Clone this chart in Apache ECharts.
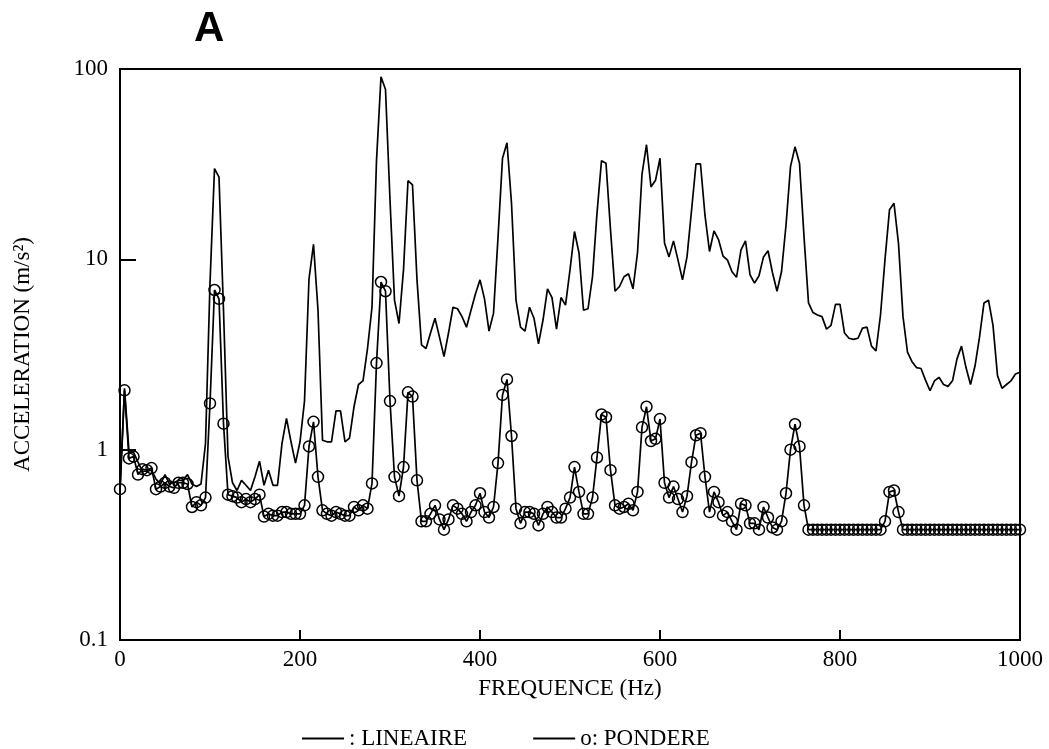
<!DOCTYPE html>
<html>
<head>
<meta charset="utf-8">
<script src="https://cdn.jsdelivr.net/npm/echarts@6/dist/echarts.min.js"></script>
<style>html,body{margin:0;padding:0;background:#fff;}#c{width:1049px;height:749px;}</style>
</head>
<body>
<div id="c"></div>
<script>
const freq = [
0,5,10,15,20,25,30,35,40,45,50,55,60,65,70,75,80,85,90,95,
100,105,110,115,120,125,130,135,140,145,150,155,160,165,170,175,180,185,190,195,
200,205,210,215,220,225,230,235,240,245,250,255,260,265,270,275,280,285,290,295,
300,305,310,315,320,325,330,335,340,345,350,355,360,365,370,375,380,385,390,395,
400,405,410,415,420,425,430,435,440,445,450,455,460,465,470,475,480,485,490,495,
500,505,510,515,520,525,530,535,540,545,550,555,560,565,570,575,580,585,590,595,
600,605,610,615,620,625,630,635,640,645,650,655,660,665,670,675,680,685,690,695,
700,705,710,715,720,725,730,735,740,745,750,755,760,765,770,775,780,785,790,795,
800,805,810,815,820,825,830,835,840,845,850,855,860,865,870,875,880,885,890,895,
900,905,910,915,920,925,930,935,940,945,950,955,960,965,970,975,980,985,990,995,
1000];

const lineaire = [
0.6,2.1,0.97,0.97,0.86,0.77,0.77,0.78,0.70,0.66,
0.74,0.66,0.67,0.69,0.69,0.74,0.66,0.64,0.66,1.08,
7.5,30,27,5.4,0.92,0.67,0.61,0.69,0.65,0.61,
0.72,0.87,0.65,0.78,0.65,0.65,1.08,1.46,1.1,0.85,
1.1,1.8,7.9,12,5.4,1.12,1.1,1.1,1.6,1.6,
1.1,1.15,1.68,2.2,2.3,3.4,5.6,33,91,78,
20.5,6.1,4.6,8.8,25.9,24.6,7.8,3.55,3.4,4.1,
4.9,3.9,3.08,4.1,5.6,5.5,5.0,4.4,5.4,6.6,
7.8,6.2,4.2,5.2,13,34,41,19.7,6.1,4.4,
4.2,5.6,4.9,3.6,4.8,7.0,6.3,4.3,6.3,5.75,
8.8,14,10.8,5.4,5.5,8.1,17.5,33,32,14.3,
6.8,7.2,8.1,8.4,7.0,10.8,28,40,24,26,
34,12.2,10.3,12.5,9.9,7.8,10.3,18,31.7,31.7,
17,11,14.1,12.7,10.4,9.9,8.6,8.05,11.2,12.5,
8.3,7.5,8.2,10.3,11.1,8.5,6.8,8.6,15.1,30.7,
39,32,13.2,5.9,5.25,5.1,5.0,4.3,4.5,5.8,
5.8,4.1,3.85,3.8,3.85,4.35,4.4,3.5,3.3,5.1,
10,18.2,19.7,12.1,5.0,3.25,2.9,2.7,2.67,2.32,
2.04,2.3,2.4,2.2,2.15,2.3,3.0,3.5,2.7,2.2,
2.75,3.9,5.9,6.1,4.5,2.45,2.1,2.2,2.3,2.5,
2.55];

const pondere = [
0.62,2.05,0.9,0.92,0.74,0.79,0.78,0.8,0.62,0.64,
0.67,0.64,0.63,0.67,0.67,0.66,0.5,0.53,0.51,0.56,
1.75,6.9,6.2,1.37,0.58,0.57,0.56,0.53,0.55,0.53,
0.55,0.58,0.445,0.46,0.45,0.45,0.47,0.47,0.46,0.46,
0.46,0.51,1.04,1.4,0.72,0.48,0.46,0.45,0.47,0.46,
0.45,0.45,0.5,0.48,0.51,0.49,0.665,2.85,7.6,6.8,
1.8,0.72,0.57,0.81,2.0,1.9,0.69,0.42,0.42,0.46,
0.51,0.43,0.38,0.43,0.51,0.49,0.46,0.42,0.47,0.51,
0.59,0.47,0.44,0.5,0.85,1.94,2.34,1.18,0.49,0.41,
0.47,0.47,0.46,0.4,0.46,0.5,0.47,0.44,0.44,0.49,
0.56,0.81,0.6,0.46,0.46,0.56,0.91,1.53,1.48,0.78,
0.51,0.49,0.5,0.52,0.48,0.6,1.31,1.68,1.11,1.14,
1.45,0.67,0.56,0.64,0.55,0.47,0.57,0.86,1.19,1.22,
0.72,0.47,0.6,0.53,0.45,0.47,0.42,0.38,0.52,0.51,
0.41,0.41,0.38,0.5,0.44,0.39,0.38,0.42,0.59,1.0,
1.36,1.04,0.51,0.38,0.38,0.38,0.38,0.38,0.38,0.38,
0.38,0.38,0.38,0.38,0.38,0.38,0.38,0.38,0.38,0.38,
0.42,0.6,0.61,0.47,0.38,0.38,0.38,0.38,0.38,0.38,
0.38,0.38,0.38,0.38,0.38,0.38,0.38,0.38,0.38,0.38,
0.38,0.38,0.38,0.38,0.38,0.38,0.38,0.38,0.38,0.38,
0.38];

const seriesNames = [': LINEAIRE', 'o: PONDERE'];
const titleText = 'A';
const xName = 'FREQUENCE (Hz)';
const yName = 'ACCELERATION (m/s\u00B2)';

const serif = 'Liberation Serif';
const chart = echarts.init(document.getElementById('c'), null, {renderer: 'canvas'});
const linData = freq.map((f, i) => [f, lineaire[i]]);
const ponData = freq.map((f, i) => [f, pondere[i]]);

chart.setOption({
  animation: false,
  backgroundColor: '#fff',
  grid: {left: 120, right: 29, top: 69, bottom: 109, show: true, borderColor: '#000', borderWidth: 2, backgroundColor: 'transparent'},
  graphic: [{
    type: 'text', left: 194, top: 8,
    style: {text: titleText, font: 'bold 42px "Liberation Sans", Arial, sans-serif', fill: '#000'}
  }],
  legend: {
    left: 297, top: 722, itemGap: 66, itemWidth: 42, itemHeight: 2,
    textStyle: {fontFamily: serif, fontSize: 23, color: '#000'},
    data: [
      {name: seriesNames[0], icon: 'rect', itemStyle: {color: '#000', borderWidth: 0}},
      {name: seriesNames[1], icon: 'rect', itemStyle: {color: '#000', borderWidth: 0}}
    ]
  },
  xAxis: {
    type: 'value', min: 0, max: 1000, interval: 200,
    name: xName, nameLocation: 'middle', nameGap: 37,
    nameTextStyle: {fontFamily: serif, fontSize: 23, color: '#000'},
    axisLine: {lineStyle: {color: '#000', width: 2}},
    axisTick: {inside: true, length: 10, lineStyle: {color: '#000', width: 2}},
    axisLabel: {fontFamily: serif, fontSize: 23, color: '#000', margin: 8,
      formatter: v => String(v)},
    splitLine: {show: false}
  },
  yAxis: {
    type: 'log', logBase: 10, min: 0.1, max: 100,
    name: yName, nameLocation: 'middle', nameGap: 86,
    nameTextStyle: {fontFamily: serif, fontSize: 23, color: '#000'},
    axisLine: {lineStyle: {color: '#000', width: 2}},
    axisTick: {inside: true, length: 16, lineStyle: {color: '#000', width: 2}},
    axisLabel: {fontFamily: serif, fontSize: 23, color: '#000', margin: 12,
      formatter: v => String(Number(v.toPrecision(3)))},
    splitLine: {show: false},
    minorTick: {show: false}
  },
  series: [
    {
      name: seriesNames[0], type: 'line', data: linData, showSymbol: false,
      lineStyle: {color: '#000', width: 1.7}, itemStyle: {color: '#000'}
    },
    {
      name: seriesNames[1], type: 'line', data: ponData, symbol: 'circle', symbolSize: 11, showSymbol: true,
      lineStyle: {color: '#000', width: 1.7},
      itemStyle: {color: 'rgba(255,255,255,0)', borderColor: '#000', borderWidth: 1.5}
    }
  ]
});
</script>
</body>
</html>
